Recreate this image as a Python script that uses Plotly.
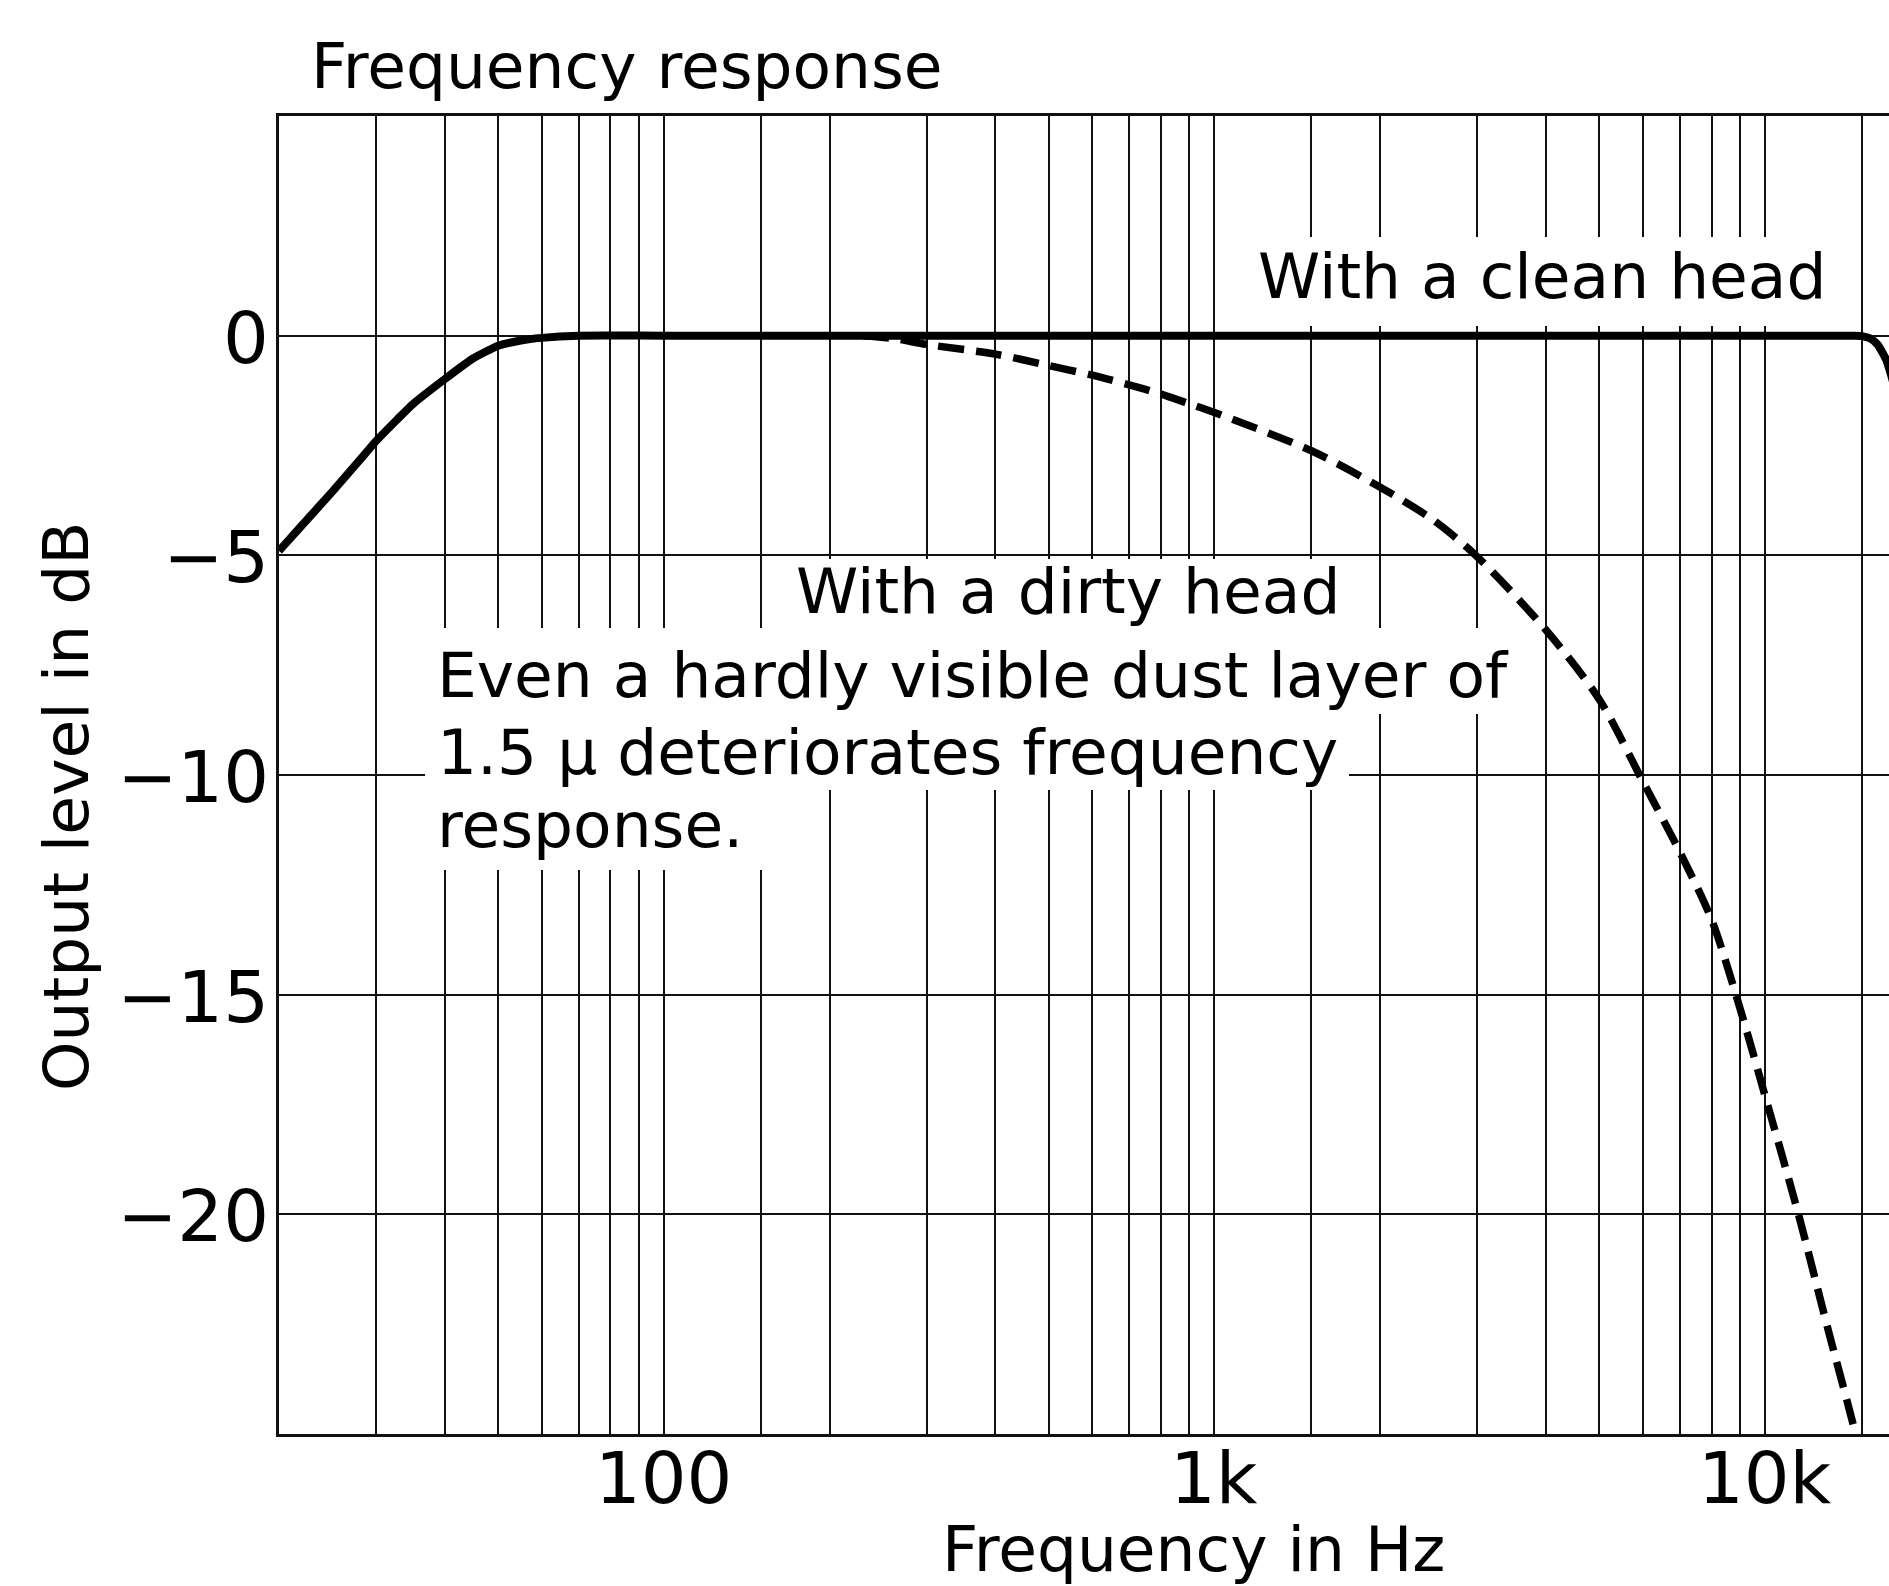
import numpy as np
import plotly.graph_objects as go

# ---------------- data ----------------
grid_freqs = [20, 30, 40, 50, 60, 70, 80, 90, 100, 150, 200, 300, 400, 500, 600, 700,
              800, 900, 1000, 1500, 2000, 3000, 4000, 5000, 6000, 7000, 8000, 9000,
              10000, 15000]
freq_label_vals = [100, 1000, 10000]
freq_label_text = ["100", "1k", "10k"]
db_grid = [5, 0, -5, -10, -15, -20, -25]
db_label_vals = [0, -5, -10, -15, -20]
db_label_text = ["0", "−5", "−10", "−15", "−20"]

clean_freq = [20, 22, 25, 28, 30, 35, 40, 45, 50, 55, 60, 70, 100, 1000, 10000,
              12000, 14000, 14600, 15000, 15500, 16000, 16600, 17200, 18000]
clean_db = [-4.9, -4.32, -3.55, -2.84, -2.4, -1.56, -0.99, -0.52, -0.23, -0.11, -0.05,
            0, 0, 0, 0, 0, 0, 0, -0.01, -0.06, -0.2, -0.55, -1.2, -2.5]

dirty_freq = [230, 260, 300, 400, 500, 600, 700, 800, 900, 1000, 1500, 2000, 2500,
              3000, 4000, 5000, 6000, 7000, 8000, 9000, 10000, 11500, 13000, 14600, 16000]
dirty_db = [0, -0.06, -0.2, -0.42, -0.68, -0.9, -1.12, -1.33, -1.55, -1.75, -2.62,
            -3.45, -4.2, -5.03, -6.7, -8.28, -10.15, -11.75, -13.3, -15.3, -17.3,
            -20.0, -22.6, -25.0, -27.2]

# ---------------- geometry ----------------
W, H = 1889, 1586
L, T, B, R = 279, 116, 152, 0
PW = W - L - R
PH = H - T - B
decade_px = 550.6
x_lo = np.log10(20)
x_hi = x_lo + PW / decade_px
Y_LO, Y_HI = -25, 5

FONT = "DejaVu Sans"
INK = "#111111"


def fx(px):
    return (px - L) / PW


def fy(py):
    return (H - B - py) / PH


def px_to_hz(px):
    return 10 ** (x_lo + (px - L) / decade_px)


def py_to_db(py):
    return Y_HI - (py - T) / PH * (Y_HI - Y_LO)


fig = go.Figure()

# white label backgrounds (drawn above the grid, below the curves)
boxes = [
    (1262, 1830, 237, 326),
    (785, 1350, 559, 630),
    (425, 1530, 628, 714),
    (425, 1349, 712, 790),
    (425, 770, 788, 870),
]
for x0, x1, y0, y1 in boxes:
    a, b = px_to_hz(x0), px_to_hz(x1)
    c, d = py_to_db(y0), py_to_db(y1)
    fig.add_trace(go.Scatter(x=[a, b, b, a, a], y=[c, c, d, d, c], mode="lines",
                             fill="toself", fillcolor="white",
                             line=dict(width=0, color="white"),
                             hoverinfo="skip", showlegend=False))

fig.add_trace(go.Scatter(x=dirty_freq, y=dirty_db, mode="lines",
                         line=dict(color="black", width=7.5, dash="26px,12px",
                                   shape="spline", smoothing=0.8),
                         hoverinfo="skip", showlegend=False))
fig.add_trace(go.Scatter(x=clean_freq, y=clean_db, mode="lines",
                         line=dict(color="black", width=8, shape="spline",
                                   smoothing=0.5),
                         hoverinfo="skip", showlegend=False))

ann = [
    ("Frequency response", 310, 67, "left", 63, 0),
    ("With a clean head", 1541.5, 276, "center", 63, 0),
    ("With a dirty head", 1068, 591.5, "center", 63, 0),
    ("Even a hardly visible dust layer of", 436, 675, "left", 63, 0),
    ("1.5 μ deteriorates frequency", 436, 752, "left", 63, 0),
    ("response.", 436, 825, "left", 63, 0),
    ("Frequency in Hz", 1193, 1549, "center", 63, 0),
    ("Output level in dB", 66, 807, "center", 63, -90),
]
for text, px, py, xa, size, ang in ann:
    fig.add_annotation(text=text, x=fx(px), y=fy(py), xref="paper", yref="paper",
                       xanchor=xa, yanchor="middle", showarrow=False,
                       textangle=ang, borderpad=0,
                       font=dict(family=FONT, size=size, color="black"))

# axis tick labels
for f, t in zip(freq_label_vals, freq_label_text):
    fig.add_annotation(text=t, x=np.log10(f), y=fy(1478), xref="x", yref="paper",
                       xanchor="center", yanchor="middle", showarrow=False,
                       borderpad=0, font=dict(family=FONT, size=72, color="black"))
for v, t in zip(db_label_vals, db_label_text):
    fig.add_annotation(text=t, x=fx(270), y=v, xref="paper", yref="y",
                       xanchor="right", yanchor="middle", yshift=-2, showarrow=False,
                       borderpad=0, font=dict(family=FONT, size=72, color="black"))

fig.update_xaxes(type="log", range=[x_lo, x_hi],
                 tickmode="array", tickvals=grid_freqs, showticklabels=False,
                 showgrid=True, gridcolor=INK, gridwidth=2,
                 showline=True, linecolor=INK, linewidth=2.5, mirror=True,
                 ticks="", zeroline=False)
fig.update_yaxes(range=[Y_LO, Y_HI], tickmode="array", tickvals=db_grid,
                 showticklabels=False,
                 showgrid=True, gridcolor=INK, gridwidth=2,
                 showline=True, linecolor=INK, linewidth=2.5, mirror=False,
                 ticks="", zeroline=False)

fig.update_layout(width=W, height=H, margin=dict(l=L, r=R, t=T, b=B, pad=0),
                  paper_bgcolor="white", plot_bgcolor="white",
                  showlegend=False, font=dict(family=FONT, color="black"))

fig.write_html("out.html", config={"displayModeBar": False},
               post_script="document.body.style.margin='0';")
